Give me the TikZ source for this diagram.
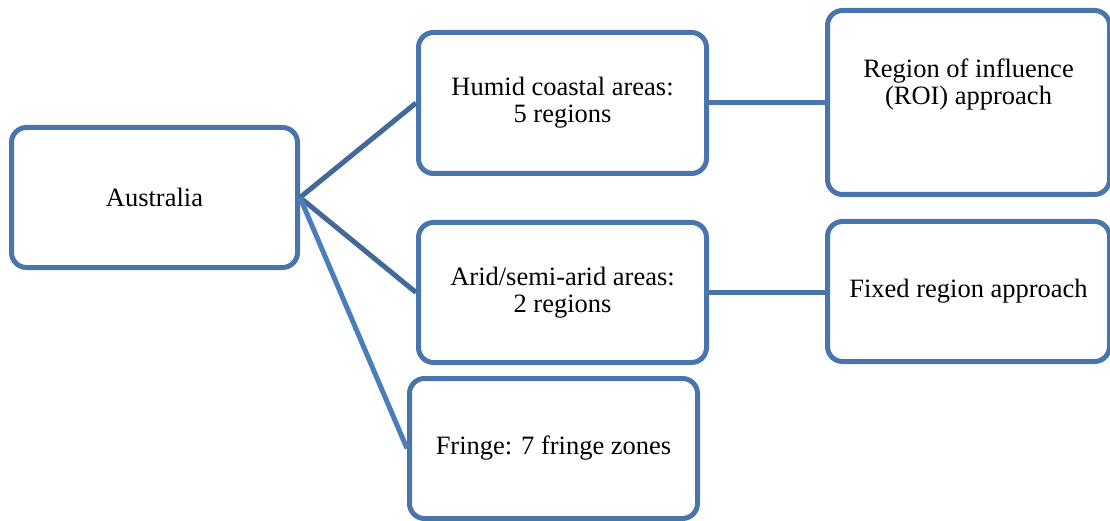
\documentclass[tikz,border=0pt]{standalone}
\usepackage{fontspec}
\setmainfont{Liberation Serif}
\definecolor{boxblue}{HTML}{4A75AC}
\definecolor{linedark}{HTML}{41699A}
\definecolor{linelight}{HTML}{4A7DBA}
\begin{document}
\begin{tikzpicture}[x=1pt,y=-1pt,
  boxnode/.style={draw=boxblue,line width=5pt,rounded corners=15pt,fill=white,
    align=center,inner sep=0pt,font=\fontsize{26.5pt}{27pt}\selectfont},
  txtnode/.style={align=center,inner sep=0pt,font=\fontsize{26.5pt}{27pt}\selectfont},
  conn/.style={line width=5pt}]
\useasboundingbox (0,0) rectangle (1110,521);
\clip (0,0) rectangle (1110,521);
\node[boxnode,minimum width=286pt,minimum height=140pt] (aus) at (154.5,197.5) {Australia};
\node[boxnode,minimum width=288pt,minimum height=141pt] (humid) at (562.5,103) {Humid coastal areas:\\5 regions};
\node[boxnode,minimum width=282pt,minimum height=184pt] (roi) at (968.5,102.5) {};
\node[txtnode] (roit) at (968.5,84) {Region of influence\\(ROI) approach};
\node[boxnode,minimum width=288pt,minimum height=140pt] (arid) at (562.5,292.5) {Arid/semi-arid areas:\\2 regions};
\node[boxnode,minimum width=282pt,minimum height=140pt] (fixed) at (968.5,291.5) {Fixed region approach};
\node[boxnode,minimum width=288pt,minimum height=140pt] (fringe) at (553.5,448.5) {Fringe: 7 fringe zones};
\draw[conn,draw=linedark] (aus.east) -- (humid.west);
\draw[conn,draw=linedark] (aus.east) -- (arid.west);
\draw[conn,draw=linelight] (aus.east) -- (fringe.west);
\draw[conn,draw=boxblue] (humid.east) -- (roi.west |- humid.east);
\draw[conn,draw=boxblue] (arid.east) -- (fixed.west |- arid.east);
\end{tikzpicture}
\end{document}
